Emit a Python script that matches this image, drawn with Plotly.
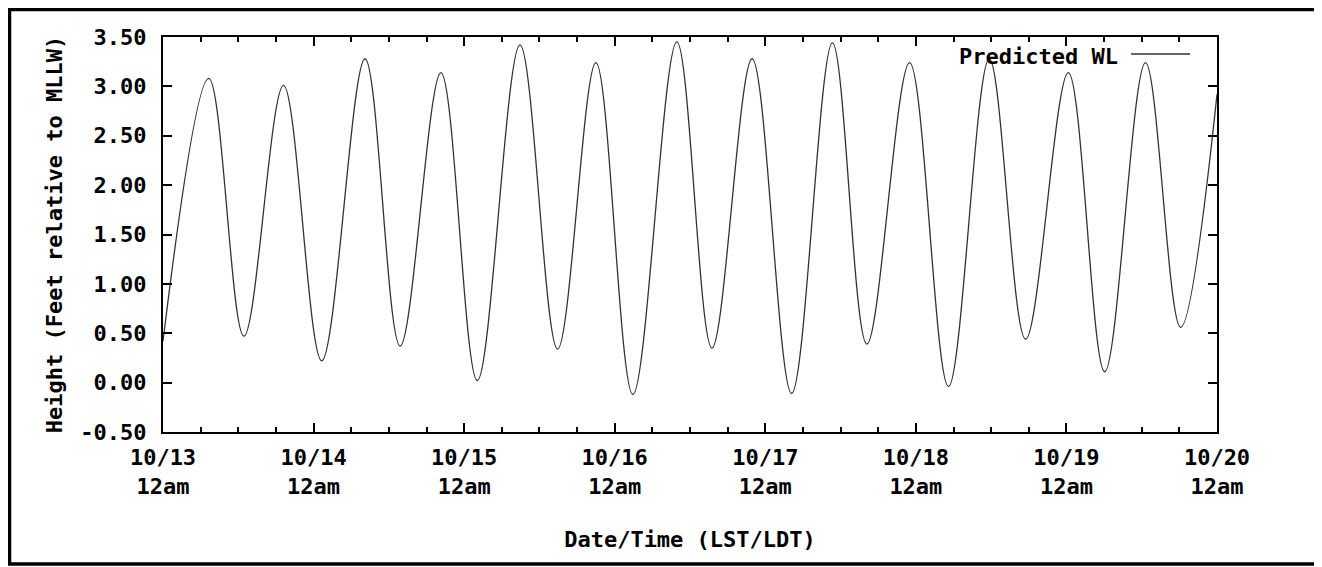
import plotly.graph_objects as go

# Predicted high/low water (hours after 10/13 12am, feet relative to MLLW)
hours = [0.0, 7.3, 12.9, 19.2, 25.3, 32.2, 37.8, 44.3, 50.1, 56.9, 62.9, 69.0,
         74.9, 81.9, 87.5, 93.9, 100.2, 106.7, 112.2, 119.0, 125.2, 131.7,
         137.5, 144.3, 150.1, 156.6, 162.2, 168.0]
height_ft = [0.42, 3.08, 0.47, 3.01, 0.22, 3.28, 0.37, 3.14, 0.02, 3.42, 0.34, 3.24,
             -0.12, 3.45, 0.35, 3.28, -0.11, 3.44, 0.39, 3.24, -0.04, 3.28,
             0.44, 3.14, 0.11, 3.24, 0.56, 2.92]

tick_hours = [0, 24, 48, 72, 96, 120, 144, 168]
tick_labels = ["10/13<br>12am", "10/14<br>12am", "10/15<br>12am", "10/16<br>12am",
               "10/17<br>12am", "10/18<br>12am", "10/19<br>12am", "10/20<br>12am"]
y_ticks = [-0.5, 0.0, 0.5, 1.0, 1.5, 2.0, 2.5, 3.0, 3.5]
y_labels = ["-0.50", "0.00", "0.50", "1.00", "1.50", "2.00", "2.50", "3.00", "3.50"]

FONT = "DejaVu Sans Mono"
FS = 22

# page offset of 8px (browser body margin) is compensated by a smaller figure
OFF = 8
W, H = 1322 - OFF, 567 - OFF
L, R, T, B = 163 - OFF, 105, 37 - OFF, 135
pw, ph = W - L - R, H - T - B


def px(xpage):
    return (xpage - OFF - L) / pw


def py(ypage):
    return (H - B - (ypage - OFF)) / ph


fig = go.Figure()
fig.add_trace(go.Scatter(
    x=hours, y=height_ft, mode="lines", name="Predicted WL",
    line=dict(color="#333333", width=1.3, shape="spline", smoothing=1.0),
    showlegend=False, hoverinfo="x+y",
))

axis_common = dict(
    showline=True, linecolor="black", linewidth=2, mirror="allticks",
    ticks="inside", ticklen=9, tickwidth=1.5, tickcolor="black",
    showgrid=False, zeroline=False,
    tickfont=dict(family=FONT, size=FS, color="black", weight="bold"),
)

fig.update_layout(
    width=W, height=H, autosize=False,
    margin=dict(l=L, r=R, t=T, b=B, autoexpand=False),
    paper_bgcolor="white", plot_bgcolor="white",
    font=dict(family=FONT, size=FS, color="black", weight="bold"),
    xaxis=dict(
        range=[0, 168], tickmode="array", tickvals=tick_hours, ticktext=tick_labels,
        minor=dict(ticks="inside", dtick=6, tick0=0, ticklen=5, tickwidth=1.5,
                   tickcolor="black", showgrid=False),
        ticklabelstandoff=5,
        title=dict(text="Date/Time (LST/LDT)", standoff=34,
                   font=dict(family=FONT, size=FS, color="black", weight="bold")),
        **axis_common,
    ),
    yaxis=dict(
        range=[-0.5, 3.5], tickmode="array", tickvals=y_ticks, ticktext=y_labels,
        ticklabelstandoff=10,
        title=dict(text="Height (Feet relative to MLLW)", standoff=12,
                   font=dict(family=FONT, size=FS, color="black", weight="bold")),
        **axis_common,
    ),
    annotations=[dict(
        text="Predicted WL", x=px(957), y=py(56), xref="paper", yref="paper",
        xanchor="left", yanchor="middle", showarrow=False,
        font=dict(family=FONT, size=FS, color="black", weight="bold"),
    )],
    shapes=[
        dict(type="line", xref="paper", yref="paper", x0=px(1131), x1=px(1190),
             y0=py(54), y1=py(54), line=dict(color="#333333", width=1.3)),
        dict(type="rect", xref="paper", yref="paper", x0=px(9.5), x1=px(1317),
             y0=py(564), y1=py(9.5), line=dict(color="black", width=3.5),
             fillcolor="rgba(0,0,0,0)", layer="below"),
    ],
)

fig.write_html("out.html")
